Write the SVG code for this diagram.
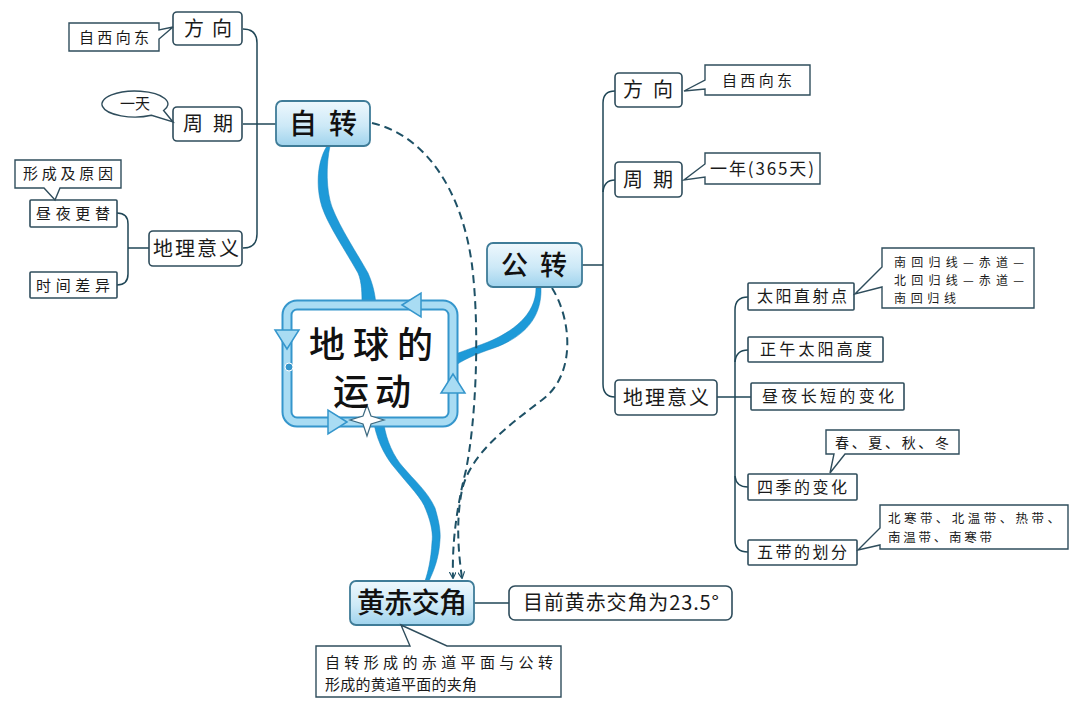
<svg xmlns="http://www.w3.org/2000/svg" width="1080" height="704" viewBox="0 0 1080 704">
<defs>
<linearGradient id="mainGrad" x1="0" y1="0" x2="0" y2="1">
<stop offset="0" stop-color="#eef8fd"/>
<stop offset="0.55" stop-color="#cde9f7"/>
<stop offset="1" stop-color="#9fd3ed"/>
</linearGradient>
<marker id="arr" viewBox="0 0 10 10" refX="9" refY="5" markerWidth="7" markerHeight="7" orient="auto" markerUnits="userSpaceOnUse">
<path d="M0,0 L10,5 L0,10" fill="none" stroke="#1e5166" stroke-width="1.6"/>
</marker>
<style>
.box{fill:#ffffff;stroke:#2f4d5c;stroke-width:1.6}
.main{fill:url(#mainGrad);stroke:#3f7c98;stroke-width:1.8}
.call{fill:#ffffff;stroke:#2f4d5c;stroke-width:1.4}
.ln{fill:none;stroke:#1f4656;stroke-width:1.5}
.dash{fill:none;stroke:#1e5166;stroke-width:2;stroke-dasharray:8 5}
.sw{fill:#1e9ad8;stroke:#1683bd;stroke-width:0.5}
.t{font-family:"Noto Sans CJK SC","Noto Sans",sans-serif;fill:#1a1a1a}
.tm{font-family:"Noto Sans CJK SC","Noto Sans",sans-serif;fill:#111111;font-weight:500}
</style>
</defs>
<rect width="1080" height="704" fill="#ffffff"/>

<g id="connectors">
<path class="ln" d="M243,29 Q257,29 257,43 V234 Q257,248 243,248"/>
<path class="ln" d="M243,124 H276"/>
<path class="ln" d="M117,213 Q128,213 128,224 V274 Q128,285 117,285"/>
<path class="ln" d="M128,248 H149"/>
<path class="ln" d="M615,91 Q603,91 603,103 V384 Q603,397 615,397"/>
<path class="ln" d="M603,192 Q604,180 615,180"/>
<path class="ln" d="M582,265 H603"/>
<path class="ln" d="M748,297 Q735,297 735,310 V540 Q735,552 748,552"/>
<path class="ln" d="M735,362 Q736,350 748,350"/>
<path class="ln" d="M717,397 H751"/>
<path class="ln" d="M735,476 Q736,487 748,487"/>
<path class="ln" d="M474,603 H509"/>
<path class="sw" d="M327,146 C318,160 315,185 322,207 C328,225 345,250 358,273 C362,282 362,295 362,305 L376,305 C375,292 372,282 368,273 C358,255 340,228 332,207 C326,190 326,165 330,146 Z"/>
<path class="sw" d="M536,288 C536,315 512,332 488,342 C470,349 459,352 452,356 L452,368 C462,360 476,354 494,348 C524,337 542,318 541,288 Z"/>
<path class="sw" d="M374,424 C378,445 388,460 394,467 C410,487 422,498 426,510 C432,525 433,535 432,542 C431,560 428,572 425,581 L429,581 C434,570 439,558 440,540 C441,530 438,518 435,508 C428,492 414,480 403,467 C394,457 386,440 384,424 Z"/>
<path class="dash" marker-end="url(#arr)" d="M372,123 C425,135 462,190 472,265 C480,330 476,420 466,470 C456,510 452,545 453,578"/>
<path class="dash" marker-end="url(#arr)" d="M552,288 C572,320 576,375 542,400 C505,428 470,455 462,490 C456,520 458,550 462,578"/>
</g>

<g id="center">
<rect x="287" y="305" width="166" height="117" rx="10" fill="#ffffff" stroke="#3596cc" stroke-width="11"/>
<rect x="287" y="305" width="166" height="117" rx="10" fill="none" stroke="#a9dcf3" stroke-width="7"/>
<polygon points="402,305 421,293 421,317" fill="#a9dcf3" stroke="#3596cc" stroke-width="1.5"/>
<polygon points="287,349 275,330 299,330" fill="#a9dcf3" stroke="#3596cc" stroke-width="1.5"/>
<polygon points="347,422 328,410 328,434" fill="#a9dcf3" stroke="#3596cc" stroke-width="1.5"/>
<polygon points="453,374 441,393 465,393" fill="#a9dcf3" stroke="#3596cc" stroke-width="1.5"/>
<circle cx="289" cy="367" r="4" fill="#3596cc" stroke="#ffffff" stroke-width="1"/>
<polygon points="367,405 371,416 384,420 371,424 367,436 363,424 350,420 363,416" fill="#ffffff" stroke="#3d6a80" stroke-width="1.2"/>
<text class="tm" x="371" y="358" font-size="36" font-weight="900" text-anchor="middle" textLength="124" lengthAdjust="spacing">地球的</text>
<text class="tm" x="372" y="405" font-size="36" font-weight="900" text-anchor="middle" textLength="78" lengthAdjust="spacing">运动</text>
</g>

<g id="zizhuan">
<rect class="main" x="276" y="101" width="94" height="45" rx="6"/>
<text class="tm" x="323" y="134" font-size="28" text-anchor="middle" textLength="68" lengthAdjust="spacing">自转</text>
</g>

<g id="l-fangxiang">
<rect class="box" x="173" y="12" width="69" height="33" rx="4"/>
<text class="t" x="208" y="36" font-size="20" text-anchor="middle" textLength="48" lengthAdjust="spacing">方向</text>
</g>
<g id="l-fangxiang-note">
<path class="call" d="M69,23 H159 V30 L173,27 L159,39 V51 H69 Z"/>
<text class="t" x="114" y="43" font-size="15" text-anchor="middle" textLength="70" lengthAdjust="spacing">自西向东</text>
</g>

<g id="l-zhouqi">
<rect class="box" x="173" y="107" width="69" height="34" rx="4"/>
<text class="t" x="208" y="131" font-size="20" text-anchor="middle" textLength="50" lengthAdjust="spacing">周期</text>
</g>
<g id="l-zhouqi-note">
<path class="call" d="M163.6,110.5 L173,122 L151.5,115.3 A33,13 0 1 1 163.6,110.5 Z"/>
<text class="t" x="135" y="109" font-size="15" text-anchor="middle">一天</text>
</g>

<g id="l-dili">
<rect class="box" x="149" y="231" width="93" height="35" rx="4"/>
<text class="t" x="196" y="256" font-size="20" text-anchor="middle" textLength="86" lengthAdjust="spacing">地理意义</text>
</g>
<g id="l-zhouye">
<rect class="box" x="30" y="200" width="87" height="27" rx="1"/>
<text class="t" x="73" y="219" font-size="15" text-anchor="middle" textLength="74" lengthAdjust="spacing">昼夜更替</text>
</g>
<g id="l-zhouye-note">
<path class="call" d="M15,160 H121 V188 H60 L55,200 L44,188 H15 Z"/>
<text class="t" x="68" y="179" font-size="15" text-anchor="middle" textLength="90" lengthAdjust="spacing">形成及原因</text>
</g>
<g id="l-shijian">
<rect class="box" x="30" y="272" width="87" height="26" rx="1"/>
<text class="t" x="73" y="291" font-size="15" text-anchor="middle" textLength="74" lengthAdjust="spacing">时间差异</text>
</g>

<g id="gongzhuan">
<rect class="main" x="487" y="243" width="95" height="44" rx="6"/>
<text class="tm" x="534" y="275" font-size="27" text-anchor="middle" textLength="66" lengthAdjust="spacing">公转</text>
</g>

<g id="r-fangxiang">
<rect class="box" x="615" y="73" width="67" height="34" rx="4"/>
<text class="t" x="648" y="97" font-size="20" text-anchor="middle" textLength="50" lengthAdjust="spacing">方向</text>
</g>
<g id="r-fangxiang-note">
<path class="call" d="M705,65 H810 V95 H705 V89 L684,91 L705,80 Z"/>
<text class="t" x="757" y="86" font-size="15" text-anchor="middle" textLength="70" lengthAdjust="spacing">自西向东</text>
</g>
<g id="r-zhouqi">
<rect class="box" x="615" y="162" width="67" height="35" rx="4"/>
<text class="t" x="648" y="187" font-size="20" text-anchor="middle" textLength="50" lengthAdjust="spacing">周期</text>
</g>
<g id="r-zhouqi-note">
<path class="call" d="M705,153 H820 V184 H705 V177 L684,180 L705,164 Z"/>
<text class="t" x="762" y="175" font-size="17" text-anchor="middle" textLength="104" lengthAdjust="spacing">一年(365天)</text>
</g>
<g id="r-dili">
<rect class="box" x="615" y="380" width="102" height="35" rx="4"/>
<text class="t" x="666" y="405" font-size="20" text-anchor="middle" textLength="86" lengthAdjust="spacing">地理意义</text>
</g>

<g id="r-zhishe">
<rect class="box" x="748" y="283" width="106" height="27" rx="1"/>
<text class="t" x="802" y="302" font-size="16" text-anchor="middle" textLength="90" lengthAdjust="spacing">太阳直射点</text>
</g>
<g id="r-zhishe-note">
<path class="call" d="M882,248 H1034 V308 H882 V287 L855,294 L882,267 Z"/>
<text class="t" x="894" y="267" font-size="12" textLength="130" lengthAdjust="spacing">南回归线—赤道—</text>
<text class="t" x="894" y="285" font-size="12" textLength="130" lengthAdjust="spacing">北回归线—赤道—</text>
<text class="t" x="894" y="303" font-size="12" textLength="62" lengthAdjust="spacing">南回归线</text>
</g>
<g id="r-zhengwu">
<rect class="box" x="748" y="337" width="135" height="25" rx="1"/>
<text class="t" x="816" y="355" font-size="16" text-anchor="middle" textLength="112" lengthAdjust="spacing">正午太阳高度</text>
</g>
<g id="r-zhouye">
<rect class="box" x="751" y="383" width="153" height="27" rx="1"/>
<text class="t" x="828" y="402" font-size="16" text-anchor="middle" textLength="132" lengthAdjust="spacing">昼夜长短的变化</text>
</g>
<g id="r-siji">
<rect class="box" x="748" y="474" width="109" height="26" rx="1"/>
<text class="t" x="802" y="493" font-size="16" text-anchor="middle" textLength="90" lengthAdjust="spacing">四季的变化</text>
</g>
<g id="r-siji-note">
<path class="call" d="M826,430 H959 V454 H845 L830,473 L834,454 H826 Z"/>
<text class="t" x="892" y="448" font-size="14" text-anchor="middle" textLength="114" lengthAdjust="spacing">春、夏、秋、冬</text>
</g>
<g id="r-wudai">
<rect class="box" x="748" y="540" width="109" height="25" rx="1"/>
<text class="t" x="802" y="558" font-size="16" text-anchor="middle" textLength="90" lengthAdjust="spacing">五带的划分</text>
</g>
<g id="r-wudai-note">
<path class="call" d="M880,505 H1068 V549 H880 V545 L858,550 L880,528 Z"/>
<text class="t" x="888" y="523" font-size="12.5" textLength="172" lengthAdjust="spacing">北寒带、北温带、热带、</text>
<text class="t" x="888" y="542" font-size="12.5" textLength="104" lengthAdjust="spacing">南温带、南寒带</text>
</g>

<g id="huangchi">
<rect class="main" x="350" y="581" width="124" height="44" rx="6"/>
<text class="tm" x="412" y="613" font-size="28" text-anchor="middle" textLength="110" lengthAdjust="spacing">黄赤交角</text>
</g>
<g id="huangchi-value">
<rect class="box" x="509" y="586" width="223" height="34" rx="6"/>
<text class="t" x="523" y="610" font-size="20" textLength="196" lengthAdjust="spacing">目前黄赤交角为23.5°</text>
</g>
<g id="huangchi-note">
<path class="call" d="M316,646 H410 L401,625 L447,646 H561 V697 H316 Z"/>
<text class="t" x="325" y="668" font-size="15" textLength="228" lengthAdjust="spacing">自转形成的赤道平面与公转</text>
<text class="t" x="325" y="690" font-size="15" textLength="152" lengthAdjust="spacing">形成的黄道平面的夹角</text>
</g>
</svg>
